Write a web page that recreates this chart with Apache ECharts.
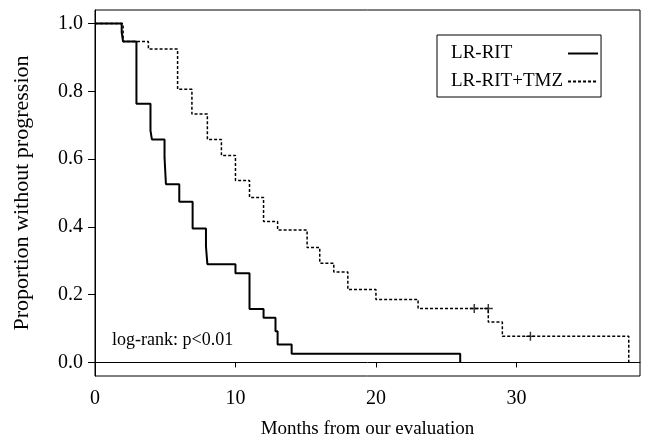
<!DOCTYPE html>
<html>
<head>
<meta charset="utf-8">
<script src="https://cdn.jsdelivr.net/npm/echarts@6/dist/echarts.min.js"></script>
<style>
  html, body { margin: 0; padding: 0; background: #fff; }
  #chart { width: 650px; height: 444px; }
</style>
</head>
<body>
<div id="chart"></div>
<script>
// step points [month, proportion]
const lrRit = [
  [0, 1.0], [1.9, 0.974], [2.0, 0.947], [2.95, 0.763], [3.95, 0.684], [4.05, 0.658],
  [4.95, 0.605], [5.05, 0.526], [6.0, 0.474], [6.95, 0.395], [7.9, 0.342], [8.0, 0.29],
  [10.0, 0.263], [11.0, 0.158], [12.0, 0.132], [12.85, 0.092], [13.0, 0.053],
  [14.0, 0.026], [26.0, 0.026], [26.0, 0.0]
]
const lrRitTmz = [
  [0, 1.0], [2.0, 0.947], [3.8, 0.925], [5.88, 0.806], [6.9, 0.733], [8.0, 0.658],
  [9.0, 0.611], [10.0, 0.537], [11.0, 0.487], [12.0, 0.416], [13.0, 0.391],
  [15.1, 0.339], [16.0, 0.293], [17.0, 0.267], [18.0, 0.215], [20.0, 0.186],
  [23.0, 0.159], [28.0, 0.119], [29.0, 0.077], [38.0, 0.077], [38.0, 0.0]
]
// censored observations (+)
const censored = [[27, 0.159], [28, 0.159], [31, 0.077]]

const xTicks = [0, 10, 20, 30]
const yTicks = [0, 0.2, 0.4, 0.6, 0.8, 1.0]
const seriesNames = ['LR-RIT', 'LR-RIT+TMZ']

const font = 'Liberation Serif'
const chart = echarts.init(document.getElementById('chart'))

// legend labels are left-aligned in a fixed-width column, line samples to the right
const labelWidth = 112
const ctx = document.createElement('canvas').getContext('2d')
ctx.font = '19px "' + font + '"'
const legendRich = { t: { fontFamily: font, fontSize: 19, color: '#000' } }
seriesNames.forEach((n, i) => {
  legendRich['s' + i] = { width: Math.max(0, labelWidth - ctx.measureText(n).width), height: 18 }
})

chart.setOption({
  animation: false,
  textStyle: { fontFamily: font, color: '#000' },
  grid: {
    left: 95, right: 10, top: 10, bottom: 65,
    show: true, borderColor: '#000', borderWidth: 1, backgroundColor: 'transparent'
  },
  legend: {
    data: seriesNames,
    orient: 'vertical',
    align: 'right',
    left: 437,
    top: 35,
    itemWidth: 30,
    itemHeight: 14,
    itemGap: 9,
    padding: [9, 2, 6, 14],
    borderColor: '#000',
    borderWidth: 1,
    itemStyle: { opacity: 0 },
    formatter: name => '{t|' + name + '}{s' + seriesNames.indexOf(name) + '|}',
    textStyle: {
      fontFamily: font, fontSize: 19, color: '#000', lineHeight: 18,
      rich: legendRich
    }
  },
  xAxis: {
    type: 'value',
    min: 0,
    max: 38.8,
    name: 'Months from our evaluation',
    nameLocation: 'middle',
    nameGap: 44,
    nameTextStyle: { fontFamily: font, fontSize: 19, color: '#000' },
    axisLine: { show: true, lineStyle: { color: '#000', width: 1 } },
    axisTick: { show: true, length: 5, customValues: xTicks, lineStyle: { color: '#000' } },
    axisLabel: { customValues: xTicks, fontFamily: font, fontSize: 20, color: '#000', margin: 13 },
    splitLine: { show: false }
  },
  yAxis: {
    type: 'value',
    min: -0.04,
    max: 1.04,
    name: 'Proportion without progression',
    nameLocation: 'middle',
    nameGap: 62,
    nameTextStyle: { fontFamily: font, fontSize: 22, color: '#000' },
    axisLine: { show: true, lineStyle: { color: '#000', width: 1 } },
    axisTick: { show: true, length: 7, customValues: yTicks, lineStyle: { color: '#000' } },
    axisLabel: {
      customValues: yTicks, fontFamily: font, fontSize: 20, color: '#000', margin: 12,
      formatter: v => v.toFixed(1)
    },
    splitLine: { show: false }
  },
  graphic: [
    {
      type: 'text',
      left: 112,
      top: 331,
      style: { text: 'log-rank: p<0.01', fontFamily: font, fontSize: 18, fill: '#000' }
    }
  ],
  series: [
    {
      name: seriesNames[0],
      type: 'line',
      step: 'end',
      data: lrRit,
      symbol: 'none',
      lineStyle: { color: '#000', width: 2 },
      itemStyle: { color: '#000' }
    },
    {
      name: seriesNames[1],
      type: 'line',
      step: 'end',
      data: lrRitTmz,
      symbol: 'none',
      lineStyle: { color: '#000', width: 1.5, type: [3, 2] },
      itemStyle: { color: '#000' }
    },
    {
      name: 'censored',
      type: 'scatter',
      data: censored,
      symbol: 'path://M4.2,0H5.8V4.2H10V5.8H5.8V10H4.2V5.8H0V4.2H4.2Z',
      symbolSize: 9,
      itemStyle: { color: '#000' },
      z: 3
    }
  ]
})
</script>
</body>
</html>
